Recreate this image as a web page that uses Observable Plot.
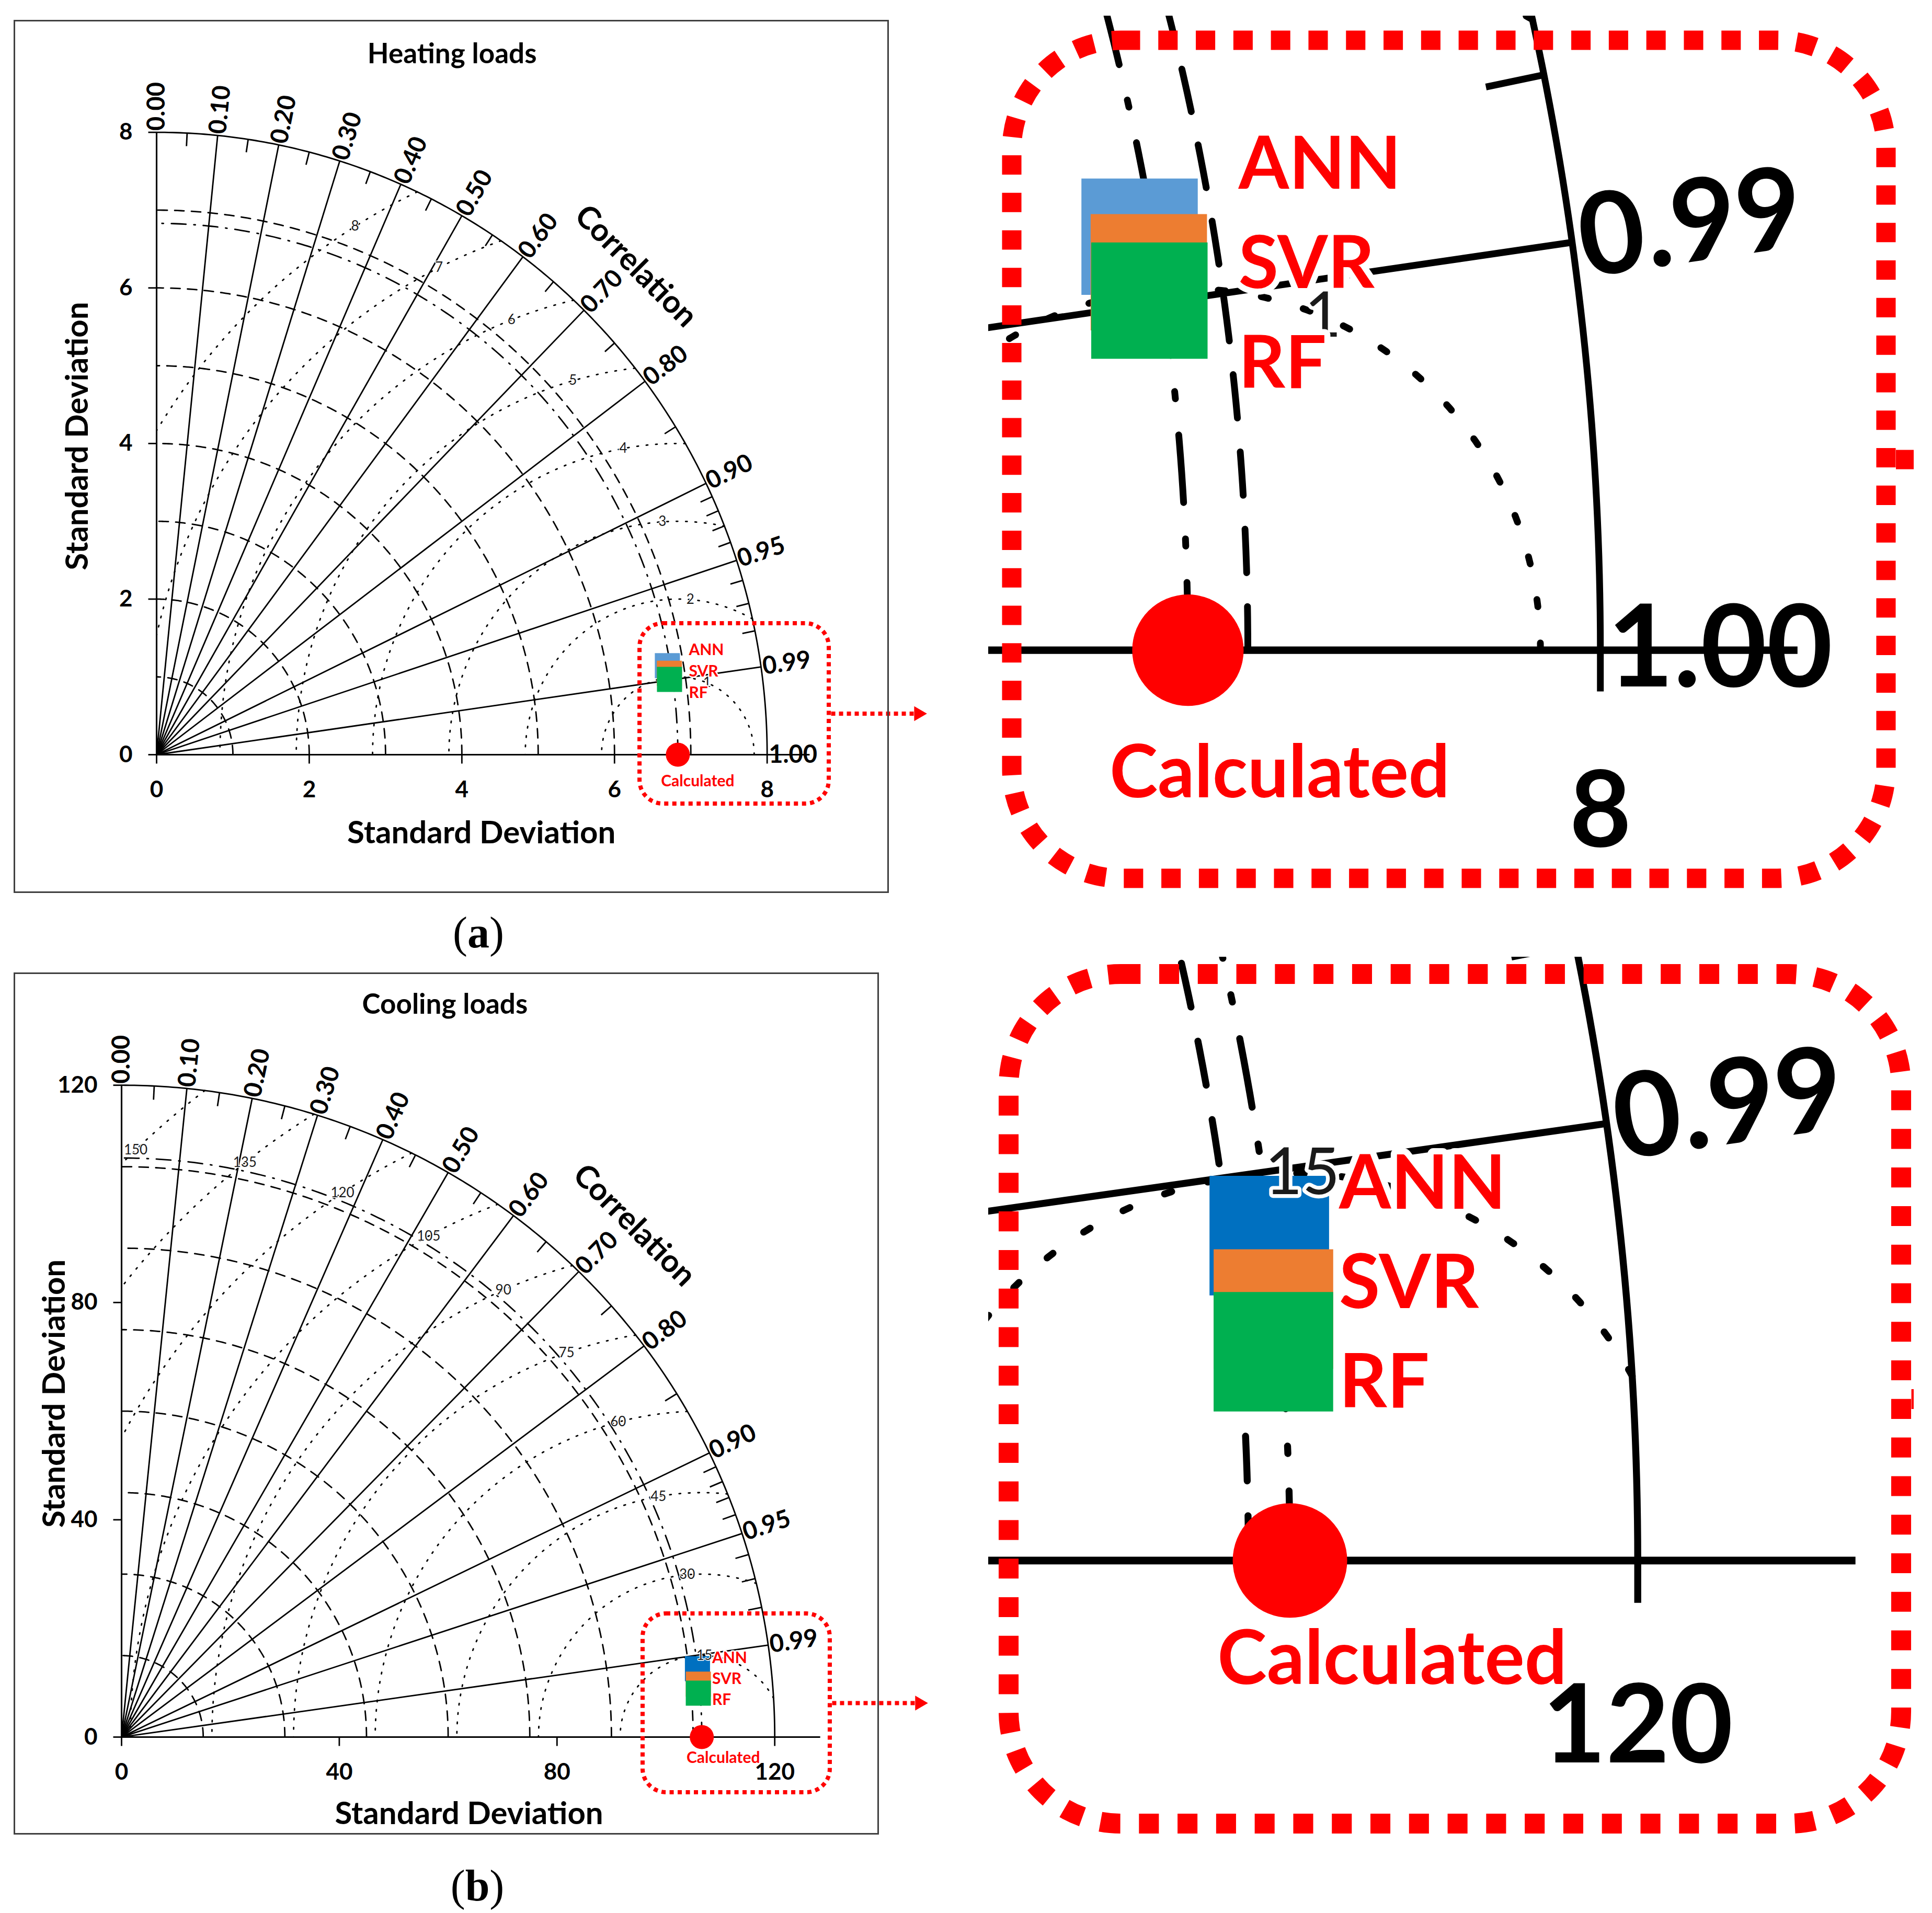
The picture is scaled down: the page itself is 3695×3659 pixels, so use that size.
<!DOCTYPE html>
<html><head><meta charset="utf-8">
<script src="https://cdn.jsdelivr.net/npm/d3@7"></script>
<script src="https://cdn.jsdelivr.net/npm/@observablehq/plot@0.6"></script>
<style>
html,body{margin:0;padding:0;background:#fff;}
#page{position:relative;width:3695px;height:3659px;background:#fff;overflow:hidden;}
.abs{position:absolute;overflow:hidden;}
.border{position:absolute;border:3px solid #404040;box-sizing:border-box;pointer-events:none;}
.cap{position:absolute;font-family:"Liberation Serif",serif;font-size:84px;transform:translate(-50%,-50%);white-space:nowrap;line-height:1;}
</style></head><body><div id="page"></div>
<script>
// ---------------- DATA ----------------
const models = ["ANN", "SVR", "RF"];
const corrGridValues = [0.1, 0.2, 0.3, 0.4, 0.5, 0.6, 0.7, 0.8, 0.9, 0.95, 0.99];
const corrMinorTicks = [0.05, 0.15, 0.25, 0.35, 0.45, 0.55, 0.65, 0.75, 0.85, 0.91, 0.92, 0.93, 0.94, 0.96, 0.97, 0.98];

const heatTitle = "Heating loads";
const heatMaxSD = 8;
const heatRefSD = 6.83;
const heatModelSD = [6.79, 6.80, 6.79];
const heatModelCorr = [0.9857, 0.9881, 0.9898];
const heatSdTicks = [0, 2, 4, 6, 8];
const heatSdArcs = [1, 2, 3, 4, 5, 6, 7];
const heatRmsLevels = [1, 2, 3, 4, 5, 6, 7, 8];
const heatCorrLabels = [0, 0.1, 0.2, 0.3, 0.4, 0.5, 0.6, 0.7, 0.8, 0.9, 0.95, 0.99, 1];
const heatColors = ["#5B9BD5", "#ED7D31", "#00B050"];

const coolTitle = "Cooling loads";
const coolMaxSD = 120;
const coolRefSD = 106.6;
const coolModelSD = [106.55, 106.41, 106.27];
const coolModelCorr = [0.9930, 0.9958, 0.9971];
const coolSdTicks = [0, 40, 80, 120];
const coolSdArcs = [15, 30, 45, 60, 75, 90, 105];
const coolRmsLevels = [15, 30, 45, 60, 75, 90, 105, 120, 135, 150];
const coolCorrLabels = [0, 0.1, 0.2, 0.3, 0.4, 0.5, 0.6, 0.7, 0.8, 0.9, 0.95, 0.99];
const coolColors = ["#0070C0", "#ED7D31", "#00B050"];

// zoomed windows (data units): [x1, x2, y1, y2]
const heatZoom = [6.331, 8.811, -0.632, 1.687];
const coolZoom = [95.77, 130.16, -10.2, 22.71];

// ---------------- LAYOUT ----------------
const FONT = "Lato, 'Open Sans', sans-serif";
const panels = [
  {title: heatTitle, R: heatMaxSD, refSD: heatRefSD, sd: heatModelSD, corr: heatModelCorr, corrLabels: heatCorrLabels,
   sdTicks: heatSdTicks, sdArcs: heatSdArcs, rmsLevels: heatRmsLevels, colors: heatColors, zoom: heatZoom, rmsLabelR: 0.909,
   border: [26, 38, 1700, 1708], svg: {L: 0, T: 0, W: 1800, H: 1790}, origin: [299, 1443], kx: 145.96, ky: 148.8,
   insetBox: [1935, 77, 3607, 1680], insetSvg: {L: 1890, T: 30, W: 1770, H: 1720},
   titleX: 0.484, titleY: 1.125, yTitleDx: -151, yTitleY: 0.512, xTitleX: 0.532, xTitleDy: 150,
   labelDx: 41, labelDy0: -44, labelStep: 41, calcDx: 38, calcDy: 51, caption: "a", capPos: [915, 1784]},
  {title: coolTitle, R: coolMaxSD, refSD: coolRefSD, sd: coolModelSD, corr: coolModelCorr, corrLabels: coolCorrLabels,
   sdTicks: coolSdTicks, sdArcs: coolSdArcs, rmsLevels: coolRmsLevels, colors: coolColors, zoom: coolZoom, rmsLabelR: 0.901,
   border: [26, 1860, 1681, 3509], svg: {L: 0, T: 1800, W: 1800, H: 1790}, origin: [232, 3322], kx: 10.41, ky: 10.39,
   insetBox: [1929, 1863, 3636, 3488], insetSvg: {L: 1890, T: 1830, W: 1770, H: 1720},
   titleX: 0.495, titleY: 1.123, yTitleDx: -128, yTitleY: 0.527, xTitleX: 0.532, xTitleDy: 147,
   labelDx: 28, labelDy0: -50, labelStep: 40, calcDx: 41, calcDy: 40, caption: "b", capPos: [913, 3607]}
];

function taylorPlot(P, rect, map, s) {
  const {L, T, W, H} = rect;
  const {ox, oy, kx, ky} = map;
  const R = P.R, ref = P.refSD, pkx = P.kx, pky = P.ky;
  const sw = 2.8 * s;
  const da = a => a.map(v => v * s).join(",");
  const arc = (r, n = 240) => d3.range(n + 1).map(i => { const t = Math.PI / 2 * i / n; return {x: r * Math.cos(t), y: r * Math.sin(t), g: r}; });
  const sdArcData = P.sdArcs.flatMap(r => arc(r));
  const rmsData = P.rmsLevels.flatMap(k => {
    const c0 = (R * R - ref * ref - k * k) / (2 * ref * k);
    const f0 = Math.acos(Math.max(-1, Math.min(1, c0)));
    const f1 = k > ref ? Math.acos(-ref / k) : Math.PI;
    return d3.range(301).map(i => { const f = f0 + (f1 - f0) * i / 300; return {x: ref + k * Math.cos(f), y: k * Math.sin(f), g: k}; });
  });
  const a = P.rmsLabelR * R;
  const rmsLabels = P.rmsLevels.map(k => { const x = (a * a - k * k + ref * ref) / (2 * ref); return {k, x, y: Math.sqrt(Math.max(0, a * a - x * x))}; });
  const sinc = c => Math.sqrt(Math.max(0, 1 - c * c));
  const pts = models.map((m, i) => ({m, i, x: P.sd[i] * P.corr[i], y: P.sd[i] * sinc(P.corr[i]), color: P.colors[i]}));
  const screenDeg = c => Math.atan2(pky * sinc(c), pkx * c) * 180 / Math.PI;
  const rl = R + 3 / pkx;
  const [zx1, zx2, zy1, zy2] = P.zoom;
  const zmid = (zy1 + zy2) / 2;
  const annX = pts[0].x, svrY = pts[1].y;
  const bold = {fontFamily: FONT, fontWeight: "bold"};

  const marks = [
    Plot.line(sdArcData, {x: "x", y: "y", z: "g", stroke: "black", strokeWidth: sw, strokeDasharray: da([18, 14])}),
    Plot.line(rmsData, {x: "x", y: "y", z: "g", stroke: "black", strokeWidth: sw, strokeDasharray: da([3, 15])}),
    Plot.line(arc(ref), {x: "x", y: "y", stroke: "black", strokeWidth: sw, strokeDasharray: da([28, 15, 3, 15])}),
    Plot.text(P.corrLabels, {x: c => rl * c, y: c => rl * sinc(c), text: c => c.toFixed(2), rotate: c => -screenDeg(c),
      textAnchor: "start", lineAnchor: "middle", fontSize: 47 * s, ...bold, fill: "black"}),
    Plot.link(corrGridValues, {x1: 0, y1: 0, x2: c => R * c, y2: c => R * sinc(c), stroke: "black", strokeWidth: sw}),
    Plot.line(arc(R), {x: "x", y: "y", stroke: "black", strokeWidth: sw}),
    Plot.link(corrMinorTicks, {x1: c => R * c, y1: c => R * sinc(c), x2: c => R * 0.979 * c, y2: c => R * 0.979 * sinc(c), stroke: "black", strokeWidth: sw}),
    Plot.ruleX([0], {y1: 0, y2: R, stroke: "black", strokeWidth: sw * 1.1}),
    Plot.ruleY([0], {x1: 0, x2: 1.07 * R, stroke: "black", strokeWidth: sw * 1.1}),
    Plot.link(P.sdTicks, {x1: 0, x2: -16 / pkx, y1: v => v, y2: v => v, stroke: "black", strokeWidth: sw}),
    Plot.link(P.sdTicks, {x1: v => v, x2: v => v, y1: 0, y2: -17 / pky, stroke: "black", strokeWidth: sw}),
    Plot.text(P.sdTicks, {x: 0, y: v => v, text: v => String(v), textAnchor: "end", lineAnchor: "middle", dx: -46 * s, fontSize: 44 * s, ...bold, fill: "black"}),
    Plot.text(P.sdTicks, {x: v => v, y: 0, text: v => String(v), textAnchor: "middle", lineAnchor: "middle", dy: 67 * s, fontSize: 44 * s, ...bold, fill: "black"}),
    Plot.text([P.title], {x: P.titleX * R, y: P.titleY * R, text: d => d, lineAnchor: "middle", fontSize: 53 * s, ...bold, fill: "black"}),
    Plot.text(["Standard Deviation"], {x: P.xTitleX * R, y: 0, dy: P.xTitleDy * s, text: d => d, lineAnchor: "middle", fontSize: 60 * s, ...bold, fill: "black"}),
    Plot.text(["Standard Deviation"], {x: 0, y: P.yTitleY * R, dx: P.yTitleDx * s, rotate: -90, text: d => d, lineAnchor: "middle", fontSize: 60 * s, ...bold, fill: "black"}),
    Plot.text(["Correlation"], {x: 1.11 * R * Math.SQRT1_2, y: 1.11 * R * Math.SQRT1_2, rotate: 45, text: d => d, lineAnchor: "middle", fontSize: 60 * s, ...bold, fill: "black"}),
    Plot.dot([ref], {x: d => d, y: 0, r: 23 * s, fill: "#FF0000"}),
    ...pts.map(p => Plot.dot([p], {x: "x", y: "y", symbol: "square", r: 27.1 * s, fill: p.color})),
    Plot.text(rmsLabels, {x: "x", y: "y", text: d => String(d.k), textAnchor: "middle", lineAnchor: "middle", fontSize: 26 * s, fontFamily: FONT,
      fill: "#1a1a1a", stroke: "white", strokeWidth: 3 * s, paintOrder: "stroke"}),
    Plot.text(pts, {x: annX + P.labelDx / pkx, y: d => svrY - (P.labelDy0 + d.i * P.labelStep) / pky, text: "m",
      textAnchor: "start", lineAnchor: "middle", fontSize: 30 * s, ...bold, fill: "#FF0000", stroke: "white", strokeWidth: 5 * s, paintOrder: "stroke"}),
    Plot.text(["Calculated"], {x: ref + P.calcDx / pkx, y: -P.calcDy / pky, text: d => d, textAnchor: "middle", lineAnchor: "middle", fontSize: 30 * s, ...bold, fill: "#FF0000"}),
    Plot.rect([P.zoom], {x1: d => d[0], x2: d => d[1], y1: d => d[2], y2: d => d[3], fill: "none", stroke: "#FF0000",
      strokeWidth: 8 * s, strokeDasharray: da([8, 7.5]), rx: 45 * s, ry: 45 * s}),
    Plot.link([zmid], {x1: zx2 + 4 / pkx, x2: zx2 + 168 / pkx, y1: d => d, y2: d => d, stroke: "#FF0000", strokeWidth: 8 * s, strokeDasharray: da([8, 7])}),
    Plot.dot([zmid], {x: zx2 + 171 / pkx, y: d => d, symbol: "triangle", rotate: 90, r: 10.5 * s, fill: "#FF0000"})
  ];

  return Plot.plot({
    width: W, height: H, margin: 0,
    x: {domain: [(L - ox) / kx, (L + W - ox) / kx], range: [0, W], axis: null},
    y: {domain: [(oy - T - H) / ky, (oy - T) / ky], range: [H, 0], axis: null},
    style: {background: "transparent", overflow: "hidden", maxWidth: "none", fontFamily: FONT},
    marks
  });
}

const page = document.getElementById("page");
function place(el, L, T, W, H) {
  const d = document.createElement("div");
  d.className = "abs";
  Object.assign(d.style, {left: L + "px", top: T + "px", width: W + "px", height: H + "px"});
  d.appendChild(el);
  page.appendChild(d);
}

for (const P of panels) {
  const r = P.svg;
  place(taylorPlot(P, r, {ox: P.origin[0], oy: P.origin[1], kx: P.kx, ky: P.ky}, 1), r.L, r.T, r.W, r.H);
  const b = document.createElement("div");
  b.className = "border";
  Object.assign(b.style, {left: P.border[0] + "px", top: P.border[1] + "px", width: (P.border[2] - P.border[0]) + "px", height: (P.border[3] - P.border[1]) + "px"});
  page.appendChild(b);
  const [bx1, by1, bx2, by2] = P.insetBox;
  const [zx1, zx2, zy1, zy2] = P.zoom;
  const kx = (bx2 - bx1) / (zx2 - zx1), ky = (by2 - by1) / (zy2 - zy1);
  const s = (kx / P.kx + ky / P.ky) / 2;
  const ir = P.insetSvg;
  place(taylorPlot(P, ir, {ox: bx1 - zx1 * kx, oy: by1 + zy2 * ky, kx, ky}, s), ir.L, ir.T, ir.W, ir.H);
  const c = document.createElement("div");
  c.className = "cap";
  c.style.left = P.capPos[0] + "px";
  c.style.top = P.capPos[1] + "px";
  c.innerHTML = "(<b>" + P.caption + "</b>)";
  page.appendChild(c);
}
</script></body></html>
